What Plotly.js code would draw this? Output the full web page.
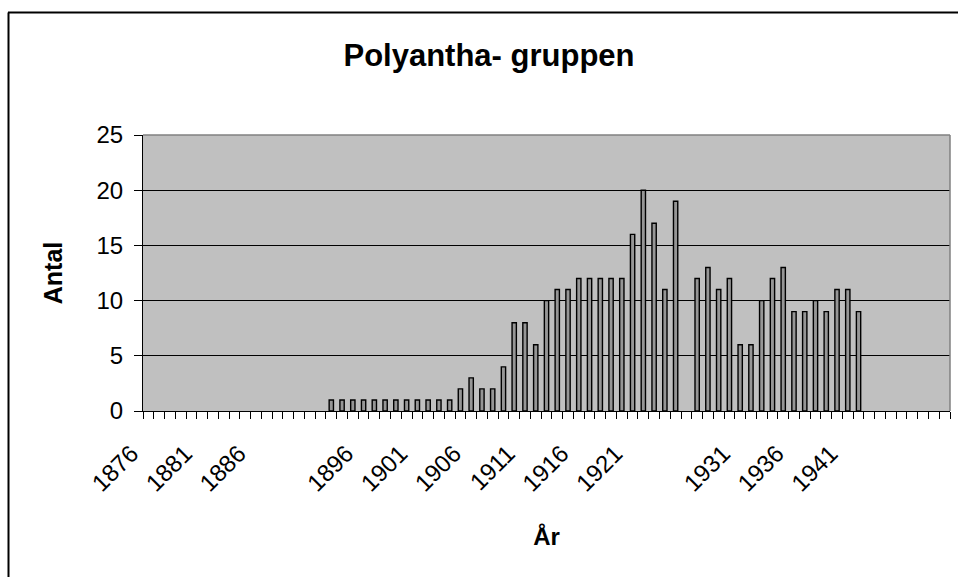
<!DOCTYPE html>
<html>
<head>
<meta charset="utf-8">
<script src="https://cdn.plot.ly/plotly-3.0.1.min.js"></script>
<style>
  body { margin: 0; background: #fff; }
  #chart { width: 958px; height: 577px; }
</style>
</head>
<body>
<div id="chart"></div>
<script>
////////// data
var years = []
for (var y = 1876; y <= 1950; y++) { years.push(y) }

var barYears = [1893, 1894, 1895, 1896, 1897, 1898, 1899, 1900, 1901, 1902, 1903, 1904,
  1905, 1906, 1907, 1908, 1909, 1910, 1911, 1912, 1913, 1914, 1915,
  1916, 1917, 1918, 1919, 1920, 1921, 1922, 1923, 1924, 1925,
  1927, 1928, 1929, 1930, 1931, 1932, 1933, 1934, 1935, 1936, 1937,
  1938, 1939, 1940, 1941, 1942]
var antal = [1, 1, 1, 1, 1, 1, 1, 1, 1, 1, 1, 1,
  2, 3, 2, 2, 4, 8, 8, 6, 10, 11, 11,
  12, 12, 12, 12, 12, 16, 20, 17, 11, 19,
  12, 13, 11, 12, 6, 6, 10, 12, 13, 9, 9,
  10, 9, 11, 11, 9]

// Excel left out the labels for 1891 and 1926
var tickYears = [1876, 1881, 1886, 1896, 1901, 1906, 1911, 1916, 1921, 1931, 1936, 1941]
var tickText = tickYears.map(String)

////////// trace
var data = [{
  x: barYears,
  y: antal,
  type: 'bar',
  marker: { color: '#969696', line: { color: '#000000', width: 1.4 } },
  showlegend: false,
  hoverinfo: 'x+y'
}]

////////// layout
var font = 'Liberation Sans, Arial, sans-serif'
var layout = {
  width: 958,
  height: 577,
  margin: { l: 143, r: 8, t: 135, b: 166 },
  paper_bgcolor: '#ffffff',
  plot_bgcolor: '#c0c0c0',
  font: { family: font, size: 24, color: '#000000' },
  bargap: 0.6,
  title: {
    text: '<b>Polyantha- gruppen</b>',
    font: { family: font, size: 31, color: '#000000' },
    xref: 'container', x: 489 / 958, xanchor: 'center',
    yref: 'container', y: 1 - 55 / 577, yanchor: 'middle'
  },
  xaxis: {
    type: 'linear',
    range: [years[0] - 0.5, years[years.length - 1] + 0.5],
    tickmode: 'array',
    tickvals: tickYears,
    ticktext: tickText,
    tickangle: -45,
    ticks: '',
    ticklabelstandoff: 18,
    ticklabelshift: -17,   // slanted labels in Excel end left of the category centre
    tickfont: { family: font, size: 24, color: '#000000' },
    minor: { tickmode: 'linear', tick0: years[0] - 0.5, dtick: 1, ticks: 'outside',
      ticklen: 7, tickwidth: 1, tickcolor: '#000000', showgrid: false },
    showgrid: false,
    zeroline: false,
    showline: true, linecolor: '#000000', linewidth: 1,
    title: { text: '<b>År</b>', font: { family: font, size: 24, color: '#000000' }, standoff: 32 },
    fixedrange: true
  },
  yaxis: {
    range: [0, 25],
    dtick: 5,
    tick0: 0,
    ticks: 'outside', ticklen: 8, tickwidth: 1, tickcolor: '#000000',
    ticklabelstandoff: 6,
    tickfont: { family: font, size: 24, color: '#000000' },
    showgrid: true, gridcolor: '#000000', gridwidth: 1,
    zeroline: false,
    showline: true, linecolor: '#000000', linewidth: 1,
    title: { text: '<b>Antal</b>', font: { family: font, size: 25, color: '#000000' }, standoff: 26 },
    fixedrange: true
  },
  shapes: [
    // grey plot-area border, top and right
    { type: 'line', xref: 'paper', yref: 'paper', x0: 0, x1: 1, y0: 1, y1: 1,
      line: { color: '#808080', width: 1.5 }, layer: 'above' },
    { type: 'line', xref: 'paper', yref: 'paper', x0: 1, x1: 1, y0: 0, y1: 1,
      line: { color: '#808080', width: 1.5 }, layer: 'above' },
    // chart-area frame, cut off at right and bottom
    { type: 'line', xref: 'paper', yref: 'paper',
      x0: (8 - 143) / 807, x1: (970 - 143) / 807, y0: (411 - 12.5) / 276, y1: (411 - 12.5) / 276,
      line: { color: '#000000', width: 2 } },
    { type: 'line', xref: 'paper', yref: 'paper',
      x0: (8.5 - 143) / 807, x1: (8.5 - 143) / 807, y0: (411 - 12.5) / 276, y1: (411 - 590) / 276,
      line: { color: '#000000', width: 2 } }
  ]
}

////////// plot
Plotly.newPlot('chart', data, layout, { displayModeBar: false, staticPlot: true })
</script>
</body>
</html>
